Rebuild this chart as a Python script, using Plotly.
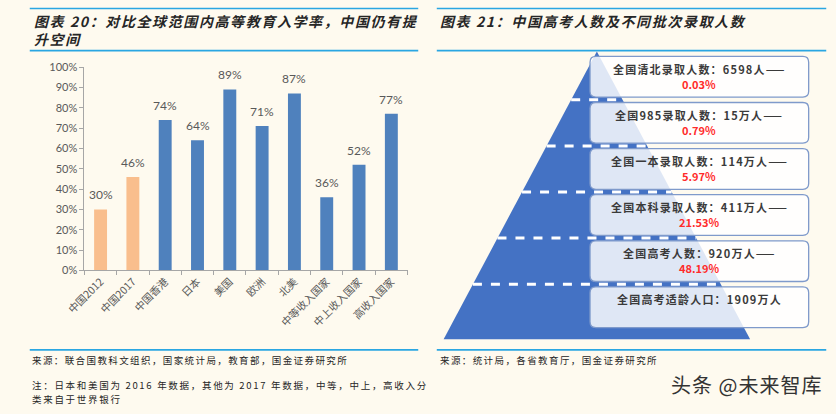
import plotly.graph_objects as go

# ---------------- data ----------------
categories = ["中国2012", "中国2017", "中国香港", "日本", "美国", "欧洲", "北美",
              "中等收入国家", "中上收入国家", "高收入国家"]
enroll_rate = [0.30, 0.46, 0.74, 0.64, 0.89, 0.71, 0.87, 0.36, 0.52, 0.77]
bar_groups = ["cn", "cn", "w", "w", "w", "w", "w", "w", "w", "w"]

levels = ["全国清北录取人数", "全国985录取人数", "全国一本录取人数",
          "全国本科录取人数", "全国高考人数", "全国高考适龄人口"]
counts = ["6598人", "15万人", "114万人", "411万人", "920万人", "1909万人"]
shares = ["0.03%", "0.79%", "5.97%", "21.53%", "48.19%", ""]

title_left_1 = "图表 20：对比全球范围内高等教育入学率，中国仍有提"
title_left_2 = "升空间"
title_right = "图表 21：中国高考人数及不同批次录取人数"
src_left = "来源：联合国教科文组织，国家统计局，教育部，国金证券研究所"
note_1 = "注：日本和美国为 2016 年数据，其他为 2017 年数据，中等，中上，高收入分"
note_2 = "类来自于世界银行"
src_right = "来源：统计局，各省教育厅，国金证券研究所"
watermark = "头条 @未来智库"

# ---------------- style ----------------
W, H = 836, 414
BG = "#FEFAEF"
LINE = "#2AA6E2"
ORANGE = "#F9BE8D"
BLUE = "#4F81BD"
PYR = "#4472C4"
GRAY = "#595959"
CJK = "Noto Sans CJK SC"


def px(x):
    return x / W


def py(y):
    return 1 - y / H


def spaced(t, sp):
    return f'<span style="letter-spacing:{sp}px">{t}</span>'


fig = go.Figure()

colors = [ORANGE if g == "cn" else BLUE for g in bar_groups]
fig.add_trace(go.Bar(x=categories, y=enroll_rate, marker=dict(color=colors, line=dict(width=0)),
                     showlegend=False, hoverinfo="skip", xaxis="x", yaxis="y"))

annotations = []
for c, v in zip(categories, enroll_rate):
    annotations.append(dict(x=c, y=v, xref="x", yref="y", text=f"{v*100:.0f}%",
                            showarrow=False, yanchor="bottom", yshift=5,
                            font=dict(family="Lato, Liberation Sans", size=12, color=GRAY)))

# ---------------- pyramid (pixel-like axis x2/y2) ----------------
shapes = []
apex_x, apex_y = 591, 46
base_l, base_r, base_y = 434, 748, 343


def half_width(y):
    return (base_r - base_l) / 2 * (y - apex_y) / (base_y - apex_y)


shapes.append(dict(type="path", xref="x2", yref="y2",
                   path=f"M{apex_x},{apex_y} L{base_r},{base_y} L{base_l},{base_y} Z",
                   fillcolor=PYR, line=dict(width=0), layer="below"))

box_l, box_r = 584, 808
box_top0, box_step, box_h = 51, 47.6, 42
r = 6
for i in range(len(levels)):
    t = box_top0 + i * box_step
    b = t + box_h
    if i > 0:
        yl = t - 2.8
        hw = half_width(yl)
        shapes.append(dict(type="line", xref="x2", yref="y2", x0=apex_x - hw, x1=apex_x + hw,
                           y0=yl, y1=yl, line=dict(color="white", width=3, dash="dash")))
    path = (f"M{box_l + r},{t} L{box_r - r},{t} Q{box_r},{t} {box_r},{t + r} "
            f"L{box_r},{b - r} Q{box_r},{b} {box_r - r},{b} L{box_l + r},{b} "
            f"Q{box_l},{b} {box_l},{b - r} L{box_l},{t + r} Q{box_l},{t} {box_l + r},{t} Z")
    shapes.append(dict(type="path", xref="x2", yref="y2", path=path,
                       fillcolor="rgba(255,255,255,0.83)", line=dict(color="#7F9ACB", width=1.3)))
    cx = (box_l + box_r) / 2
    line1 = f"{levels[i]}：{counts[i]}" + ("——" if shares[i] else "")
    annotations.append(dict(x=cx, y=t + 12.5, xref="x2", yref="y2",
                            text=spaced(f"<b>{line1}</b>", 1.2),
                            showarrow=False, xanchor="center", yanchor="middle",
                            font=dict(family=CJK, size=11, color="#3A3A3A")))
    if shares[i]:
        annotations.append(dict(x=cx, y=t + 28, xref="x2", yref="y2", text=f"<b>{shares[i]}</b>",
                                showarrow=False, xanchor="center", yanchor="middle",
                                font=dict(family=CJK, size=11, color="#FF2B2B")))

# ---------------- separator lines ----------------
for x0, x1 in [(10, 408), (427, 826)]:
    for yy in [1.5, 45, 354]:
        shapes.append(dict(type="line", xref="paper", yref="paper", x0=px(x0), x1=px(x1),
                           y0=py(yy), y1=py(yy), line=dict(color=LINE, width=1.6)))

# ---------------- titles & footers ----------------
tfont = dict(family=CJK, size=14, color="#262626", weight="bold", style="italic")
for txt, x, y in [(title_left_1, 12, 14), (title_left_2, 12, 33), (title_right, 428, 14)]:
    annotations.append(dict(x=px(x), y=py(y), xref="paper", yref="paper", text=spaced(txt, 1.6),
                            showarrow=False, xanchor="left", yanchor="middle", font=tfont))

ffont = dict(family=CJK, size=9.5, color="#262626")
for txt, x, y, sp in [(src_left, 10, 364, 1.4), (src_right, 428, 364, 1.4),
                      (note_1, 10, 390, 1.7), (note_2, 10, 404.5, 1.7)]:
    annotations.append(dict(x=px(x), y=py(y), xref="paper", yref="paper", text=spaced(txt, sp),
                            showarrow=False, xanchor="left", yanchor="middle", font=ffont))

annotations.append(dict(x=px(824), y=py(390), xref="paper", yref="paper",
                        text=spaced(watermark, 1), showarrow=False, xanchor="right",
                        yanchor="middle", font=dict(family=CJK, size=20, color="#333333")))

fig.update_layout(
    width=W, height=H, margin=dict(l=0, r=0, t=0, b=0),
    paper_bgcolor=BG, plot_bgcolor="rgba(0,0,0,0)",
    bargap=0.6, showlegend=False,
    xaxis=dict(domain=[px(66), px(397)], showline=True, linecolor="#A6A6A6", linewidth=1,
               ticks="outside", tickson="boundaries", ticklen=4, tickcolor="#A6A6A6",
               tickangle=-45, showgrid=False, fixedrange=True,
               tickfont=dict(family=CJK, size=10.5, color=GRAY)),
    yaxis=dict(domain=[py(272), py(62)], range=[0, 1], dtick=0.1, tickformat=".0%",
               showline=True, linecolor="#A6A6A6", linewidth=1, ticks="outside", ticklen=4,
               tickcolor="#A6A6A6", showgrid=False, zeroline=False,
               tickfont=dict(family="Lato, Liberation Sans", size=11, color=GRAY)),
    xaxis2=dict(domain=[0, 1], range=[0, W], visible=False, anchor="y2", fixedrange=True),
    yaxis2=dict(domain=[0, 1], range=[H, 0], visible=False, anchor="x2", fixedrange=True),
    shapes=shapes, annotations=annotations,
)

fig.write_html("out.html", config={"displayModeBar": False},
               post_script="document.body.style.margin='0';document.body.style.overflow='hidden';")
